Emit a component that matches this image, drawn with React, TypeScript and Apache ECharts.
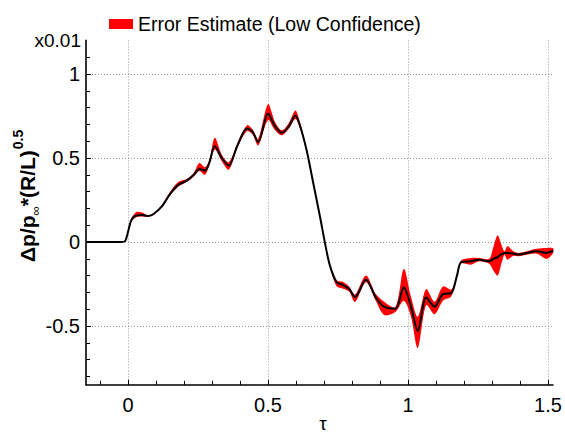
import React, { useEffect, useRef } from "react";
import * as echarts from "echarts";

// tau (x), mean pressure signal (black line), band extent above / below mean (red band)
const tau = [
  -0.15, -0.1, -0.05, -0.025, -0.01, 0.0, 0.012, 0.03, 0.05, 0.07, 0.09, 0.12, 0.15, 0.18, 0.21,
  0.235, 0.255, 0.275, 0.29, 0.31, 0.335, 0.36, 0.39, 0.425, 0.445, 0.465, 0.5, 0.525, 0.55,
  0.575, 0.598, 0.614, 0.638, 0.662, 0.686, 0.704, 0.721, 0.745, 0.769, 0.79, 0.811, 0.85,
  0.885, 0.915, 0.955, 0.985, 1.01, 1.035, 1.065, 1.095, 1.125, 1.155, 1.175, 1.19, 1.225,
  1.255, 1.29, 1.305, 1.32, 1.335, 1.345, 1.355, 1.375, 1.395, 1.42, 1.46, 1.495, 1.518,
];
const mean = [
  0, 0, 0, 0, 0.006, 0.06, 0.13, 0.158, 0.16, 0.155, 0.165, 0.21, 0.285, 0.34, 0.365,
  0.4, 0.435, 0.425, 0.47, 0.57, 0.5, 0.455, 0.57, 0.675, 0.655, 0.595, 0.765, 0.69, 0.65,
  0.69, 0.752, 0.695, 0.546, 0.348, 0.149, -0.01, -0.139, -0.238, -0.258, -0.28, -0.327, -0.224,
  -0.33, -0.385, -0.397, -0.27, -0.38, -0.53, -0.33, -0.385, -0.31, -0.303, -0.2, -0.12, -0.115,
  -0.105, -0.115, -0.1, -0.09, -0.072, -0.066, -0.065, -0.068, -0.075, -0.067, -0.055, -0.065, -0.052,
];
const errUp = [
  0, 0, 0, 0, 0.002, 0.005, 0.01, 0.02, 0.015, 0.005, 0.005, 0.008, 0.012, 0.018, 0.01,
  0.012, 0.035, 0.02, 0.015, 0.05, 0.02, 0.02, 0.015, 0.02, 0.015, 0.02, 0.055, 0.025, 0.015,
  0.02, 0.03, 0.02, 0.01, 0.008, 0.008, 0.008, 0.01, 0.01, 0.02, 0.015, 0.015, 0.025,
  0.02, 0.03, 0.01, 0.11, 0.06, 0.085, 0.05, 0.03, 0.045, 0.02, 0.01, 0.01, 0.02,
  0.01, 0.015, 0.07, 0.13, 0.05, 0.01, 0.04, 0.015, 0.01, 0.01, 0.015, 0.03, 0.015,
];
const errDown = [
  0, 0, 0, 0, 0.002, 0.005, 0.01, 0.01, 0.008, 0.005, 0.005, 0.006, 0.008, 0.01, 0.008,
  0.01, 0.012, 0.025, 0.015, 0.02, 0.02, 0.025, 0.012, 0.015, 0.015, 0.02, 0.04, 0.025, 0.015,
  0.015, 0.02, 0.02, 0.01, 0.008, 0.008, 0.008, 0.01, 0.025, 0.02, 0.015, 0.03, 0.015,
  0.02, 0.05, 0.02, 0.08, 0.06, 0.1, 0.045, 0.045, 0.04, 0.02, 0.01, 0.01, 0.02,
  0.01, 0.015, 0.07, 0.11, 0.05, 0.01, 0.04, 0.015, 0.01, 0.01, 0.015, 0.035, 0.015,
];

const xMajorTicks = [0, 0.5, 1, 1.5];
const yMajorTicks = [-0.5, 0, 0.5, 1];
const legendLabel = "Error Estimate (Low Confidence)";
const scaleLabel = "x0.01";
const xTitle = "τ";
const yTitleParts = ["Δp/p", "∞", "*(R/L)", "0.5"];

const FONT = 'Arial, "Liberation Sans", Helvetica, sans-serif';

function measure(text: string, font: string): number {
  const c = document.createElement("canvas").getContext("2d");
  if (!c) return text.length * 10;
  c.font = font;
  return c.measureText(text).width;
}

export default function App() {
  const ref = useRef<HTMLDivElement>(null);
  useEffect(() => {
    document.body.style.margin = "0";
    if (!ref.current) return;
    const chart = echarts.init(ref.current, undefined, { renderer: "svg" });

    const meanData = tau.map((t, i) => [t, mean[i]]);

    const gridTop = 40.4;
    const gridH = 344.4;
    const dotted = { show: true, lineStyle: { color: "#999", width: 1, type: [1, 2] as any } };
    const tick = (len: number) => ({ show: true, inside: true, length: len, lineStyle: { color: "#000", width: 1 } });
    const hidden = (gi: number) => ({ gridIndex: gi, show: false, min: 0, max: 1, type: "value" as const });

    // y-axis title pieces (rotated group); positions given as baseline offsets
    const mainSize = 21, subSize = 13, supSize = 14;
    const fMain = `bold ${mainSize}px Arial, "Liberation Sans", sans-serif`;
    const w1 = measure(yTitleParts[0], fMain);
    const w2 = measure(yTitleParts[1], `${subSize}px Arial, "Liberation Sans", sans-serif`);
    const w3 = measure(yTitleParts[2], fMain);
    const piece = (text: string, x: number, base: number, size: number, bold: boolean) => ({
      type: "text", x, y: base - 0.35 * size,
      style: { text, fontSize: size, fontWeight: bold ? "bold" : "normal", fill: "#000", fontFamily: FONT, verticalAlign: "middle" },
    });

    const option: any = {
      animation: false,
      backgroundColor: "#fff",
      legend: {
        left: 104,
        top: 9,
        itemWidth: 24,
        itemHeight: 10,
        textStyle: { fontSize: 19.5, color: "#000", fontFamily: FONT },
        data: [{ name: legendLabel, icon: "rect", itemStyle: { color: "#ff0000", borderWidth: 0 } }],
        selectedMode: false,
      },
      grid: [
        { left: 86, top: gridTop, width: 467, height: gridH },
        { left: 128, top: gridTop, width: 420, height: gridH },
        { left: 100, top: gridTop, width: 448, height: gridH },
        { left: 86, top: 74, width: 467, height: 252 },
        { left: 86, top: 57.2, width: 467, height: 319.2 },
      ],
      xAxis: [
        {
          gridIndex: 0, type: "value", min: -0.15, max: 1.518,
          axisLine: { show: true, onZero: false, lineStyle: { color: "#000", width: 1.6 } },
          axisTick: { show: false }, axisLabel: { show: false }, splitLine: { show: false },
        },
        {
          gridIndex: 1, type: "value", min: xMajorTicks[0], max: xMajorTicks[xMajorTicks.length - 1], interval: 0.5,
          axisLine: { show: false, onZero: false },
          axisTick: tick(5),
          axisLabel: { show: true, margin: 10, fontSize: 20, color: "#000", fontFamily: FONT, formatter: (v: number) => String(v) },
          splitLine: dotted,
        },
        {
          gridIndex: 2, type: "value", min: -0.1, max: 1.5, interval: 0.1,
          axisLine: { show: false, onZero: false },
          axisTick: tick(4), axisLabel: { show: false }, splitLine: { show: false },
        },
        hidden(3),
        hidden(4),
      ],
      yAxis: [
        {
          gridIndex: 0, type: "value", min: -0.85, max: 1.2,
          axisLine: { show: true, onZero: false, lineStyle: { color: "#000", width: 1.6 } },
          axisTick: { show: false }, axisLabel: { show: false }, splitLine: { show: false },
        },
        hidden(1),
        hidden(2),
        {
          gridIndex: 3, type: "value", min: yMajorTicks[0], max: yMajorTicks[yMajorTicks.length - 1], interval: 0.5,
          axisLine: { show: false, onZero: false },
          axisTick: tick(5),
          axisLabel: { show: true, margin: 6, fontSize: 20, color: "#000", fontFamily: FONT, formatter: (v: number) => String(v) },
          splitLine: dotted,
        },
        {
          gridIndex: 4, type: "value", min: -0.8, max: 1.1, interval: 0.1,
          axisLine: { show: false, onZero: false },
          axisTick: tick(4), axisLabel: { show: false }, splitLine: { show: false },
        },
      ],
      series: [
        {
          name: legendLabel,
          type: "custom",
          xAxisIndex: 0, yAxisIndex: 0,
          data: [[tau[0], mean[0]]],
          itemStyle: { color: "#ff0000" },
          silent: true,
          z: 3,
          renderItem: (_p: any, api: any) => {
            const upper = tau.map((t, i) => api.coord([t, mean[i] + errUp[i]]));
            const lower = tau.map((t, i) => api.coord([t, mean[i] - errDown[i]])).reverse();
            return {
              type: "polygon",
              shape: { points: upper.concat(lower), smooth: 0.3 },
              style: { fill: "#ff0000", stroke: "none" },
            };
          },
        },
        {
          name: "mean",
          type: "line",
          xAxisIndex: 0, yAxisIndex: 0,
          data: meanData,
          smooth: 0.3,
          symbol: "none",
          lineStyle: { color: "#000", width: 2 },
          z: 5,
          silent: true,
        },
      ],
      graphic: [
        {
          type: "text", right: 565 - 81, top: 31,
          style: { text: scaleLabel, fontSize: 19, fill: "#000", fontFamily: FONT },
        },
        {
          type: "text", x: 323, y: 423,
          style: { text: xTitle, fontSize: 19, fill: "#000", fontFamily: FONT, align: "center", verticalAlign: "middle" },
        },
        {
          type: "group", x: 35, y: 262, rotation: Math.PI / 2,
          children: [
            piece(yTitleParts[0], 0, 0, mainSize, true),
            piece(yTitleParts[1], w1, 5, subSize, false),
            piece(yTitleParts[2], w1 + w2, 0, mainSize, true),
            piece(yTitleParts[3], w1 + w2 + w3 + 1, -12, supSize, true),
          ],
        },
      ],
    };
    chart.setOption(option);
    return () => chart.dispose();
  }, []);
  return <div ref={ref} style={{ width: 565, height: 434 }} />;
}
